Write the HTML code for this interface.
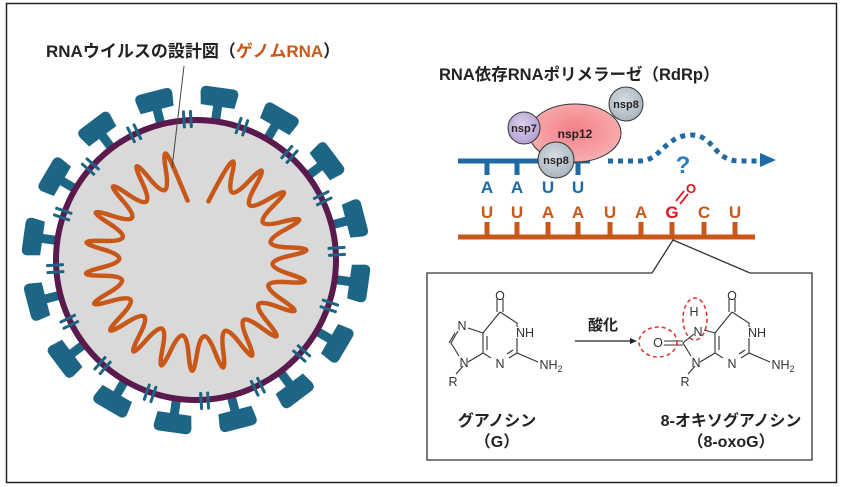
<!DOCTYPE html>
<html><head><meta charset="utf-8"><style>
html,body{margin:0;padding:0;background:#fff}
svg{display:block}
text{font-family:"Liberation Sans","Noto Sans CJK JP",sans-serif}
</style></head><body>
<svg id="s" width="841" height="487" viewBox="0 0 841 487" xmlns="http://www.w3.org/2000/svg">
<defs>
<radialGradient id="pk" cx="50%" cy="45%" r="60%"><stop offset="0" stop-color="#f47f86"/><stop offset="1" stop-color="#f7b3b5"/></radialGradient>
<radialGradient id="gy" cx="45%" cy="40%" r="60%"><stop offset="0" stop-color="#d6dde3"/><stop offset="1" stop-color="#a9b5bf"/></radialGradient>
<radialGradient id="pu" cx="45%" cy="40%" r="60%"><stop offset="0" stop-color="#ddd0ee"/><stop offset="1" stop-color="#b39fd2"/></radialGradient>
</defs>
<rect x="6.5" y="3.5" width="830" height="479" fill="none" stroke="#222" stroke-width="1.5"/>
<g id="virus"></g>
<line x1="184" y1="66" x2="172" y2="168" stroke="#444" stroke-width="1"/>
<text x="46" y="57" font-size="17" font-weight="bold" fill="#222">RNAウイルスの設計図（<tspan fill="#c8581a">ゲノムRNA</tspan>）</text>

<!-- RdRp -->
<text x="439" y="80" font-size="16.5" font-weight="bold" fill="#222">RNA依存RNAポリメラーゼ（RdRp）</text>
<g stroke="#1f6aa5" stroke-width="5" fill="none">
<line x1="458" y1="161" x2="590" y2="161"/>
<line x1="487" y1="161" x2="487" y2="175"/><line x1="517" y1="161" x2="517" y2="175"/>
<line x1="548" y1="161" x2="548" y2="175"/><line x1="578" y1="161" x2="578" y2="175"/>
<path d="M608 161 L640 161 C660 161 665 136 690 135 C715 134 712 161 740 161 L760 161" stroke-dasharray="5 5"/>
</g>
<polygon points="760,153 776,160 760,167" fill="#1f6aa5"/>
<text x="683" y="173" font-size="24" font-weight="bold" fill="#2a7fc0" text-anchor="middle">?</text>
<ellipse cx="575" cy="133" rx="46" ry="29" fill="url(#pk)" stroke="#333" stroke-width="1"/>
<text x="575" y="138" font-size="12" font-weight="bold" fill="#222" text-anchor="middle">nsp12</text>
<circle cx="524" cy="128" r="16" fill="url(#pu)" stroke="#333" stroke-width="1"/>
<text x="524" y="132" font-size="11" font-weight="bold" fill="#222" text-anchor="middle">nsp7</text>
<circle cx="626" cy="104" r="17" fill="url(#gy)" stroke="#333" stroke-width="1"/>
<text x="626" y="108" font-size="11" font-weight="bold" fill="#222" text-anchor="middle">nsp8</text>
<circle cx="556" cy="160" r="18" fill="url(#gy)" stroke="#333" stroke-width="1"/>
<text x="556" y="164" font-size="11" font-weight="bold" fill="#222" text-anchor="middle">nsp8</text>
<g font-size="17" font-weight="bold" fill="#1f6aa5" text-anchor="middle">
<text x="487" y="193">A</text><text x="517" y="193">A</text><text x="548" y="193">U</text><text x="578" y="193">U</text>
</g>
<g font-size="17" font-weight="bold" fill="#c8581a" text-anchor="middle">
<text x="487" y="218">U</text><text x="517" y="218">U</text><text x="548" y="218">A</text><text x="578" y="218">A</text><text x="610" y="218">U</text><text x="641" y="218">A</text><text x="672" y="218" fill="#e8101a">G</text><text x="704" y="218">C</text><text x="735" y="218">U</text>
</g>
<g stroke="#e8101a" stroke-width="1.8"><line x1="676" y1="201" x2="684" y2="191"/><line x1="680" y1="204" x2="688" y2="194"/></g>
<text x="691" y="193" font-size="13" font-weight="bold" fill="#e8101a" text-anchor="middle">O</text>
<g stroke="#c8581a" stroke-width="5">
<line x1="458" y1="237" x2="755" y2="237"/>
<line x1="487" y1="222" x2="487" y2="237"/><line x1="517" y1="222" x2="517" y2="237"/><line x1="548" y1="222" x2="548" y2="237"/><line x1="578" y1="222" x2="578" y2="237"/><line x1="610" y1="222" x2="610" y2="237"/><line x1="641" y1="222" x2="641" y2="237"/><line x1="672" y1="222" x2="672" y2="237"/><line x1="704" y1="222" x2="704" y2="237"/><line x1="735" y1="222" x2="735" y2="237"/>
</g>
<!-- callout box -->
<path d="M652 273 L427 273 L427 460 L812 460 L812 273 L750 273 M652 273 L673 240 L750 273" fill="none" stroke="#333" stroke-width="1.3"/>
<!-- guanosine -->
<g stroke="#333" stroke-width="1.1" fill="none">
<path d="M500 312 L517 323 L517 327 M517 338 L517 353 L509 358 M491 358 L483 353 L483 333 L500 312"/>
<line x1="497" y1="299" x2="497" y2="312"/><line x1="503" y1="299" x2="503" y2="312"/>
<line x1="517" y1="353" x2="538" y2="362"/>
<line x1="487" y1="336" x2="487" y2="350"/><line x1="513" y1="350" x2="507" y2="354"/>
<path d="M483 333 L468 328 M458 331 L451 343 L459 356 M468 362 L483 353"/>
<line x1="455" y1="333" x2="449" y2="343"/>
<line x1="463" y1="366" x2="456" y2="374"/>
</g>
<g font-size="12.5" fill="#333" text-anchor="middle">
<text x="500" y="300">O</text><text x="525" y="337">NH</text><text x="500" y="368">N</text><text x="462" y="330">N</text><text x="464" y="367">N</text><text x="453" y="386">R</text>
<text x="551" y="369">NH<tspan font-size="9" dy="3">2</tspan></text>
</g>
<!-- arrow -->
<line x1="575" y1="341" x2="630" y2="341" stroke="#222" stroke-width="1.2"/>
<polygon points="630,338 637,341 630,344" fill="#222"/>
<text x="603" y="330" font-size="15" font-weight="bold" fill="#222" text-anchor="middle">酸化</text>
<!-- 8-oxoG -->
<g transform="translate(232,0)">
<g stroke="#333" stroke-width="1.1" fill="none">
<path d="M500 312 L517 323 L517 327 M517 338 L517 353 L509 358 M491 358 L483 353 L483 333 L500 312"/>
<line x1="497" y1="299" x2="497" y2="312"/><line x1="503" y1="299" x2="503" y2="312"/>
<line x1="517" y1="353" x2="538" y2="362"/>
<line x1="487" y1="336" x2="487" y2="350"/><line x1="513" y1="350" x2="507" y2="354"/>
<path d="M483 333 L472 330 M462 334 L451 343 L459 356 M468 362 L483 353"/>
<line x1="451" y1="341" x2="432" y2="341"/><line x1="451" y1="345" x2="432" y2="345"/>
<line x1="463" y1="366" x2="456" y2="374"/>
</g>
<g font-size="12.5" fill="#333" text-anchor="middle">
<text x="500" y="300">O</text><text x="525" y="337">NH</text><text x="500" y="368">N</text><text x="466" y="336">N</text><text x="462" y="316">H</text><text x="426" y="347">O</text><text x="464" y="367">N</text><text x="453" y="386">R</text>
<text x="551" y="369">NH<tspan font-size="9" dy="3">2</tspan></text>
</g>
</g>
<ellipse cx="658" cy="342" rx="19" ry="15" fill="none" stroke="#e03030" stroke-width="1.5" stroke-dasharray="4 3"/>
<ellipse cx="695" cy="319" rx="12" ry="21" fill="none" stroke="#e03030" stroke-width="1.5" stroke-dasharray="4 3"/>
<g font-size="16" font-weight="bold" fill="#222" text-anchor="middle">
<text x="497" y="426">グアノシン</text><text x="497" y="447">（G）</text>
<text x="731" y="426">8-オキソグアノシン</text><text x="731" y="447">（8-oxoG）</text>
</g>
</svg>
<script>
(function(){
var g=document.getElementById('virus'),cx=196,cy=260,h='';
function P(r,a){a=a*Math.PI/180;return [cx+r*Math.sin(a),cy-r*Math.cos(a)];}
for(var i=0;i<16;i++){var a=i*22.5+8;
 h+='<g transform="translate('+cx+','+cy+') rotate('+a+')"><rect x="-4.5" y="-156" width="9" height="14" fill="#1d6585"/><path d="M-17 -155 L17 -155 L19 -168 Q19 -174 13 -174 L-13 -174 Q-19 -174 -19 -168 Z" fill="#1d6585"/></g>';}
h+='<circle cx="'+cx+'" cy="'+cy+'" r="140" fill="#d9d9d9" stroke="#5a1a4e" stroke-width="6"/>';
for(var i=0;i<16;i++){var a=i*22.5+19;
 h+='<g transform="translate('+cx+','+cy+') rotate('+a+')" fill="#1d6585"><rect x="-5" y="-150" width="3" height="18" rx="1"/><rect x="2" y="-150" width="3" height="18" rx="1"/></g>';}
var pts=[],n=42,a0=12,a1=352;
for(var i=0;i<=n;i++){var a=a0+(a1-a0)*i/n;var r=(i%2==0)?60:128;pts.push(P(r,a));}
var d='M'+pts[0][0].toFixed(1)+' '+pts[0][1].toFixed(1);
for(var i=1;i<pts.length-1;i++){var m=[(pts[i][0]+pts[i+1][0])/2,(pts[i][1]+pts[i+1][1])/2];
 d+=' Q'+pts[i][0].toFixed(1)+' '+pts[i][1].toFixed(1)+' '+m[0].toFixed(1)+' '+m[1].toFixed(1);}
var L=pts[pts.length-1];d+=' L'+L[0].toFixed(1)+' '+L[1].toFixed(1);
h+='<path d="'+d+'" fill="none" stroke="#c8581a" stroke-width="4.5" stroke-linejoin="round" stroke-linecap="round"/>';
g.innerHTML=h;
})();
</script>
</body></html>
